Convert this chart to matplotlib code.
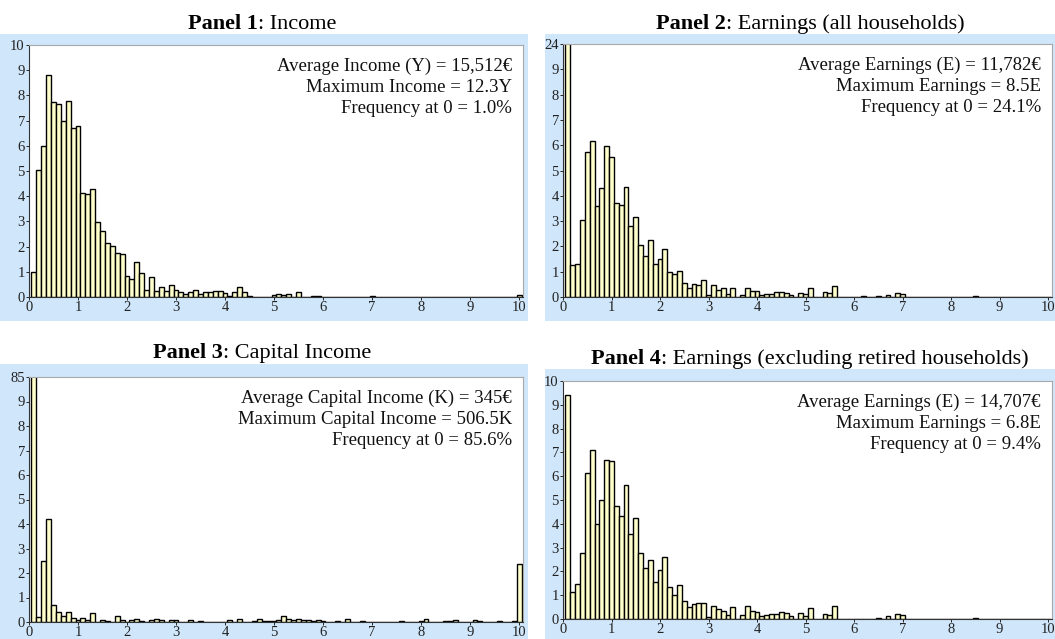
import matplotlib

matplotlib.use("Agg")
import matplotlib.pyplot as plt
from matplotlib.patches import Rectangle
import numpy as np

plt.rcParams["font.family"] = ["Liberation Serif", "DejaVu Serif"]

W, H = 1055, 639
BLUE = "#d0e6fa"
BAR_FACE = "#ffffcc"

# bin k (1..100) holds the share (%) of households with value around 0.1*k of the mean;
# bin 1 is the mass at zero, bin 100 collects everything above 10
BIN_CENTERS = [round(0.1 * k, 1) for k in range(1, 101)]

income = [
    1.0, 5.05, 6.0, 8.82, 7.72, 7.67, 6.97, 7.76, 6.69, 6.78,
    4.13, 4.07, 4.29, 2.98, 2.61, 2.15, 2.03, 1.76, 1.72, 0.85,
    0.73, 1.40, 0.95, 0.26, 0.79, 0.24, 0.41, 0.23, 0.49, 0.28,
    0.21, 0.10, 0.21, 0.28, 0.10, 0.21, 0.21, 0.24, 0.24, 0.15,
    0.05, 0.20, 0.41, 0.18, 0.05, 0, 0, 0, 0, 0.08,
    0.10, 0.08, 0.10, 0, 0.20, 0, 0, 0.04, 0.04, 0,
    0, 0, 0, 0, 0, 0, 0, 0, 0, 0.04,
    0, 0, 0, 0, 0, 0, 0, 0, 0, 0,
    0, 0, 0, 0, 0, 0, 0, 0, 0, 0,
    0, 0, 0, 0, 0, 0, 0, 0, 0, 0.08,
]

earnings_all = [
    24.1, 1.25, 1.32, 3.06, 5.75, 6.16, 3.58, 4.30, 5.95, 5.52,
    3.71, 3.64, 4.34, 2.81, 3.18, 2.07, 1.63, 2.26, 1.32, 1.51,
    1.89, 0.97, 0.90, 1.03, 0.54, 0.37, 0.50, 0.48, 0.66, 0.09,
    0.48, 0.28, 0.36, 0.13, 0.37, 0, 0.09, 0.36, 0.24, 0.23,
    0.08, 0.10, 0.13, 0.18, 0.20, 0.16, 0.09, 0, 0.17, 0.10,
    0.36, 0, 0, 0.18, 0.15, 0.45, 0, 0, 0, 0,
    0, 0.03, 0, 0, 0.03, 0, 0.08, 0, 0.17, 0.12,
    0, 0, 0, 0, 0, 0, 0, 0, 0, 0,
    0, 0, 0, 0, 0.03, 0, 0, 0, 0, 0,
    0, 0, 0, 0, 0, 0, 0, 0, 0, 0,
]

capital_income = [
    85.6, 0.20, 2.49, 4.19, 0.69, 0.40, 0.24, 0.39, 0.16, 0.07,
    0.16, 0.09, 0.36, 0, 0.09, 0.05, 0, 0.24, 0.09, 0,
    0.07, 0.13, 0.04, 0, 0.09, 0.12, 0.07, 0, 0.07, 0.07,
    0, 0, 0.07, 0, 0.03, 0, 0, 0, 0, 0,
    0.10, 0, 0.13, 0, 0, 0.05, 0.13, 0.04, 0.04, 0.04,
    0.09, 0.24, 0.13, 0.07, 0.13, 0.07, 0.09, 0.04, 0.07, 0.03,
    0, 0, 0.04, 0, 0.12, 0, 0, 0.04, 0, 0,
    0, 0, 0, 0, 0, 0.04, 0, 0, 0, 0.04,
    0.13, 0, 0, 0, 0.04, 0.03, 0.10, 0, 0, 0,
    0.07, 0.04, 0, 0, 0, 0.04, 0, 0, 0.03, 2.37,
]

earnings_working = [
    9.4, 1.13, 1.48, 2.76, 6.15, 7.09, 4.00, 5.00, 6.66, 6.63,
    4.73, 4.34, 5.62, 3.58, 4.24, 2.77, 2.15, 2.50, 1.54, 2.06,
    2.62, 1.33, 0.99, 1.41, 0.74, 0.50, 0.63, 0.69, 0.67, 0.08,
    0.56, 0.42, 0.32, 0.18, 0.50, 0, 0.15, 0.53, 0.32, 0.28,
    0.11, 0.17, 0.20, 0.21, 0.29, 0.25, 0.12, 0, 0.24, 0.11,
    0.46, 0, 0, 0.22, 0.17, 0.56, 0, 0, 0, 0,
    0, 0, 0, 0, 0.03, 0, 0.11, 0, 0.22, 0.15,
    0, 0, 0, 0, 0, 0, 0, 0, 0, 0,
    0, 0, 0, 0, 0.04, 0, 0, 0, 0, 0,
    0, 0, 0, 0, 0, 0, 0, 0, 0, 0,
]

PANELS = [
    {
        "num": "Panel 1", "name": ": Income", "values": income, "top_label": "10",
        "notes": ["Average Income (Y) = 15,512€", "Maximum Income = 12.3Y", "Frequency at 0 = 1.0%"],
        "bg": (0, 34, 528, 321), "ax": (29, 45, 523, 297), "title": (262, 29),
    },
    {
        "num": "Panel 2", "name": ": Earnings (all households)", "values": earnings_all, "top_label": "24",
        "notes": ["Average Earnings (E) = 11,782€", "Maximum Earnings = 8.5E", "Frequency at 0 = 24.1%"],
        "bg": (545, 34, 1055, 321), "ax": (563, 44, 1052, 297), "title": (810, 29),
    },
    {
        "num": "Panel 3", "name": ": Capital Income", "values": capital_income, "top_label": "85",
        "notes": ["Average Capital Income (K) = 345€", "Maximum Capital Income = 506.5K",
                  "Frequency at 0 = 85.6%"],
        "bg": (0, 364, 528, 639), "ax": (29, 377, 523, 622), "title": (262, 358),
    },
    {
        "num": "Panel 4", "name": ": Earnings (excluding retired households)", "values": earnings_working,
        "top_label": "10",
        "notes": ["Average Earnings (E) = 14,707€", "Maximum Earnings = 6.8E", "Frequency at 0 = 9.4%"],
        "bg": (545, 369, 1055, 639), "ax": (563, 381, 1052, 619), "title": (810, 364),
    },
]


def px_rect(x0, y0, x1, y1):
    return [x0 / W, 1 - y1 / H, (x1 - x0) / W, (y1 - y0) / H]


def panel_title(fig, renderer, xc, ybase, bold, rest):
    t1 = fig.text(0, 1 - ybase / H, bold, fontsize=16, fontweight="bold", va="baseline")
    t2 = fig.text(0, 1 - ybase / H, rest, fontsize=16, va="baseline")
    w1 = t1.get_window_extent(renderer).width
    w2 = t2.get_window_extent(renderer).width
    x0 = xc - (w1 + w2) / 2
    t1.set_x(x0 / W)
    t2.set_x((x0 + w1) / W)


def draw_panel(fig, renderer, panel):
    x0, y0, x1, y1 = panel["bg"]
    fig.patches.append(Rectangle((x0 / W, 1 - y1 / H), (x1 - x0) / W, (y1 - y0) / H,
                                 transform=fig.transFigure, facecolor=BLUE, edgecolor="none", zorder=-5))
    ax = fig.add_axes(px_rect(*panel["ax"]))
    ax.set_zorder(2)
    ax.bar(BIN_CENTERS, panel["values"], width=0.1, color=BAR_FACE, edgecolor="black", linewidth=1.0)
    ax.set_xlim(0, 10.08)
    ax.set_ylim(0, 10)
    ax.set_xticks(range(11))
    ax.set_yticks(range(11))
    ax.set_yticklabels([str(i) for i in range(10)] + [panel["top_label"]])
    ax.tick_params(axis="both", labelsize=10.5, length=2.5, width=0.7, pad=0.5, colors="#222222")
    for side in ["top", "right"]:
        ax.spines[side].set_color("#a8a8a8")
        ax.spines[side].set_linewidth(0.8)
    for side in ["left", "bottom"]:
        ax.spines[side].set_color("#333333")
        ax.spines[side].set_linewidth(0.8)
    ax.annotate("\n".join(panel["notes"]), xy=(1, 1), xycoords="axes fraction",
                xytext=(-8, -9), textcoords="offset points", ha="right", va="top",
                fontsize=13.5, linespacing=1.3, color="#111111")
    panel_title(fig, renderer, panel["title"][0], panel["title"][1], panel["num"], panel["name"])


def main():
    fig = plt.figure(figsize=(W / 100, H / 100), dpi=100)
    renderer = fig.canvas.get_renderer()
    for panel in PANELS:
        draw_panel(fig, renderer, panel)
    fig.savefig("out.png", dpi=100)
    plt.close(fig)


if __name__ == "__main__":
    main()
